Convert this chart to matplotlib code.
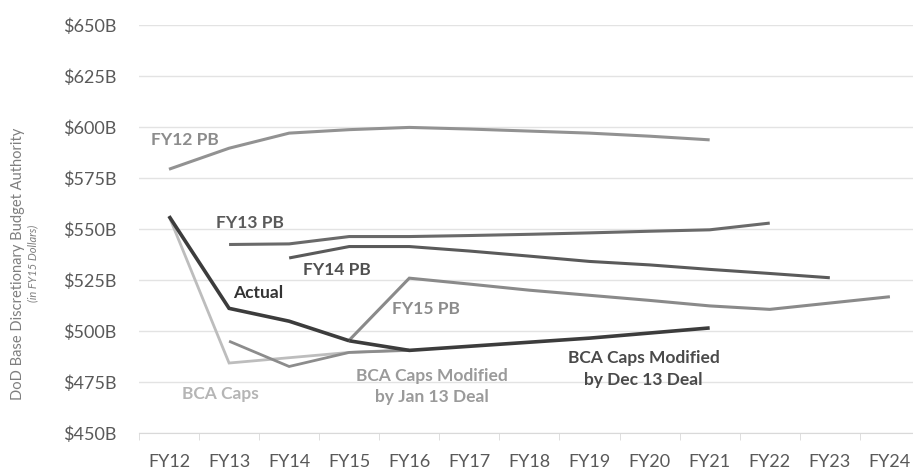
import matplotlib
matplotlib.use('Agg')
import matplotlib.pyplot as plt

plt.rcParams['font.family'] = ['Lato', 'DejaVu Sans']

# Fiscal years on the x axis
years = ['FY12', 'FY13', 'FY14', 'FY15', 'FY16', 'FY17', 'FY18',
         'FY19', 'FY20', 'FY21', 'FY22', 'FY23', 'FY24']

# Budget series in $B (FY15 dollars), each starting at its first year
fy12_pb = [579.3, 589.6, 597.0, 598.7, 599.8, 599.0, 598.0, 597.0, 595.5, 593.7]   # FY12-FY21
fy13_pb = [542.4, 542.7, 546.3, 546.3, 546.8, 547.4, 548.1, 548.9, 549.6, 552.9]   # FY13-FY22
fy14_pb = [535.8, 541.4, 541.4, 539.2, 536.7, 534.1, 532.4, 530.2, 528.2, 526.1]   # FY14-FY23
fy15_pb = [495.5, 525.9, 523.0, 520.0, 517.5, 515.0, 512.3, 510.6, 513.7, 516.8]   # FY15-FY24
actual = [556.3, 511.1, 504.8, 495.2]                                              # FY12-FY15
dec13_deal = [495.2, 490.5, 492.5, 494.5, 496.5, 499.0, 501.5]                     # FY15-FY21
bca_caps = [556.3, 484.3, 486.9, 489.5, 490.8]                                     # FY12-FY16
jan13_deal = [495.0, 482.6, 489.5, 490.5]                                          # FY13-FY16

y_ticks = [450, 475, 500, 525, 550, 575, 600, 625, 650]
y_labels = ['$%dB' % v for v in y_ticks]


def xs(first_year, values):
    start = years.index(first_year)
    return list(range(start, start + len(values)))


fig = plt.figure(figsize=(9.13, 4.71), dpi=100)
ax = fig.add_axes([0.1522, 0.0807, 0.8554, 0.8662])

series = [
    ('FY12', fy12_pb, '#929292', 2.2),
    ('FY13', fy13_pb, '#6a6a6a', 2.2),
    ('FY14', fy14_pb, '#5a5a5a', 2.2),
    ('FY15', fy15_pb, '#8a8a8a', 2.2),
    ('FY12', bca_caps, '#bdbdbd', 2.0),
    ('FY13', jan13_deal, '#8c8c8c', 2.0),
    ('FY12', actual, '#3c3c3c', 2.6),
    ('FY15', dec13_deal, '#3c3c3c', 2.6),
]
for first, vals, col, lw in series:
    ax.plot(xs(first, vals), vals, color=col, lw=lw, solid_joinstyle='miter',
            solid_capstyle='butt', zorder=3)

# Series labels
labels = [
    (0.27, 593.7, 'FY12 PB', '#8c8c8c', 'bold'),
    (1.35, 552.7, 'FY13 PB', '#5a5a5a', 'bold'),
    (2.8, 529.7, 'FY14 PB', '#505050', 'bold'),
    (1.48, 518.7, 'Actual', '#333333', 'bold'),
    (4.27, 511.0, 'FY15 PB', '#8c8c8c', 'bold'),
    (0.85, 469.3, 'BCA Caps', '#b5b5b5', 'bold'),
    (4.37, 472.8, 'BCA Caps Modified\nby Jan 13 Deal', '#9a9a9a', 'bold'),
    (7.9, 481.4, 'BCA Caps Modified\nby Dec 13 Deal', '#4a4a4a', 'bold'),
]
for x, y, txt, col, w in labels:
    ax.text(x, y, txt, color=col, fontsize=12.5, fontweight=w,
            ha='center', va='center', linespacing=1.45, zorder=4)

ax.set_xlim(-0.5, len(years) - 0.5)
ax.set_ylim(450, 650)
ax.set_yticks(y_ticks)
ax.set_yticklabels(y_labels)
ax.set_xticks(range(len(years)))
ax.set_xticklabels(years)
ax.set_xticks([i - 0.5 for i in range(len(years) + 1)], minor=True)

ax.grid(axis='y', color='#e3e3e3', lw=1.0, zorder=0)
for s in ['top', 'right', 'left']:
    ax.spines[s].set_visible(False)
ax.spines['bottom'].set_color('#d9d9d9')
ax.tick_params(axis='y', length=0, pad=16, labelsize=13, labelcolor='#595959')
ax.tick_params(axis='x', which='major', length=0, pad=15, labelsize=13, labelcolor='#595959')
ax.tick_params(axis='x', which='minor', length=5, color='#d9d9d9')

fig.text(0.02, 0.44, 'DoD Base Discretionary Budget Authority', rotation=90,
         ha='center', va='center', fontsize=10.5, color='#7f7f7f')
fig.text(0.036, 0.44, '(in FY15 Dollars)', rotation=90, style='italic',
         ha='center', va='center', fontsize=8, color='#7f7f7f')

fig.savefig('out.png', dpi=100)
